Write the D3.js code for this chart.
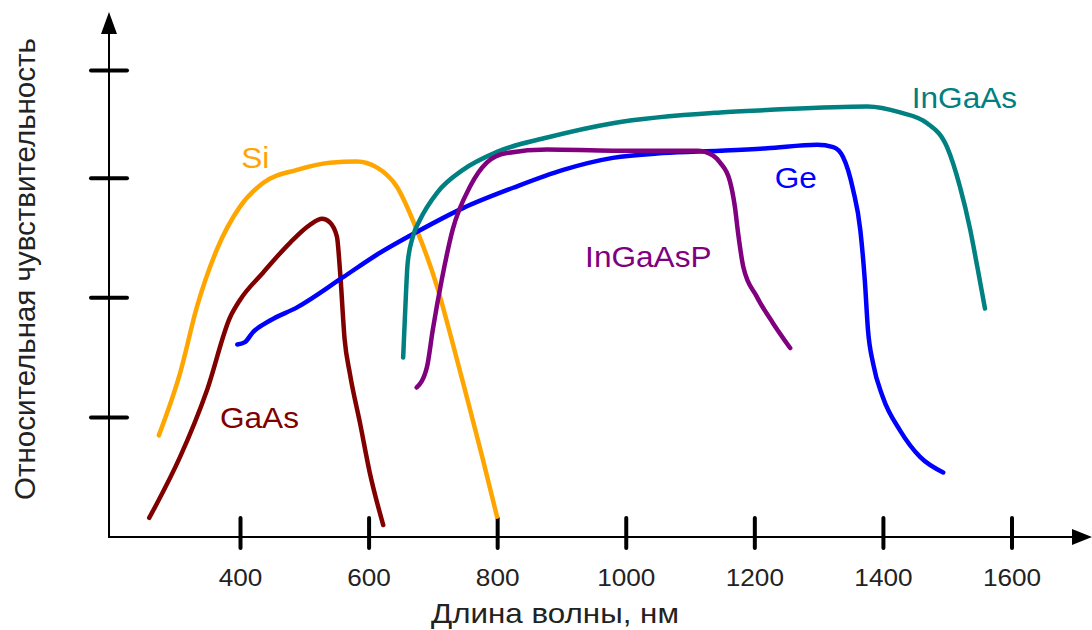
<!DOCTYPE html>
<html>
<head>
<meta charset="utf-8">
<script src="https://cdn.jsdelivr.net/npm/d3@7"></script>
<style>
  body { margin: 0; background: #fff; }
  text { font-family: "Liberation Sans", Arial, sans-serif; }
</style>
</head>
<body>
<div id="chart"></div>
<script>
// wavelength (nm), relative sensitivity (arbitrary units, 1 per y tick)
var siData = [[273,0.85],[306,1.37],[332,1.92],[363,2.40],[399,2.76],[435,2.96],[488,3.07],[539,3.13],[581,3.14],[612,3.09],[643,2.93],[674,2.57],[706,2.09],[730,1.62],[752,1.17],[776,0.67],[799,0.17]];
var gaasData = [[258,0.16],[270,0.28],[306,0.67],[348,1.23],[384,1.84],[399,1.98],[435,2.21],[477,2.46],[508,2.61],[527,2.66],[539,2.63],[550,2.51],[555,2.21],[562,1.65],[570,1.37],[586,0.95],[601,0.54],[622,0.10]];
var geData = [[395,1.61],[407,1.63],[419,1.71],[446,1.81],[488,1.92],[559,2.17],[612,2.36],[674,2.55],[746,2.75],[824,2.92],[902,3.07],[979,3.17],[1057,3.21],[1146,3.23],[1219,3.25],[1297,3.28],[1322,3.26],[1337,3.18],[1353,2.90],[1364,2.57],[1371,2.15],[1376,1.73],[1384,1.45],[1399,1.17],[1426,0.89],[1457,0.67],[1493,0.54]];
var ingaasData = [[653,1.50],[656,1.87],[660,2.29],[668,2.51],[679,2.65],[706,2.88],[746,3.07],[799,3.22],[877,3.34],[979,3.46],[1146,3.55],[1219,3.57],[1375,3.60],[1426,3.55],[1468,3.46],[1499,3.26],[1519,2.93],[1535,2.57],[1546,2.26],[1558,1.91]];
var ingaaspData = [[674,1.25],[690,1.42],[699,1.73],[713,2.15],[730,2.57],[757,2.93],[783,3.13],[814,3.21],[877,3.24],[979,3.23],[1110,3.23],[1135,3.19],[1146,3.13],[1161,2.98],[1169,2.76],[1174,2.54],[1182,2.26],[1203,2.01],[1228,1.79],[1255,1.58]];

var seriesNames = ["Si", "GaAs", "Ge", "InGaAs", "InGaAsP"];
var seriesColors = ["#FFA500", "#800000", "#0000FF", "#008080", "#800080"];
var seriesData = [siData, gaasData, geData, ingaasData, ingaaspData];
// label start point (nm, value) for each series name
var labelPos = [[401,3.085], [368,0.91], [1231,2.92], [1444,3.59], [936,2.26]];

var xTicks = [400, 600, 800, 1000, 1200, 1400, 1600];
var yTicks = [1, 2, 3, 3.9];
var xTitle = "Длина волны, нм";
var yTitle = "Относительная чувствительность";

var width = 1092, height = 630;
var svg = d3.select("#chart").append("svg")
    .attr("width", width)
    .attr("height", height);

var x = d3.scaleLinear().domain([400, 1600]).range([240.5, 1012]);
var y = d3.scaleLinear().domain([0, 1]).range([537, 417.4]);

// axes lines
svg.append("line")
    .attr("x1", 109).attr("x2", 1076)
    .attr("y1", y(0)).attr("y2", y(0))
    .attr("stroke", "#000").attr("stroke-width", 2);
svg.append("line")
    .attr("x1", 109).attr("x2", 109)
    .attr("y1", y(0) + 1).attr("y2", 30)
    .attr("stroke", "#000").attr("stroke-width", 2);
// arrow heads
svg.append("path")
    .attr("d", "M1092," + y(0) + " L1072," + (y(0) - 8) + " L1072," + (y(0) + 8) + " Z")
    .attr("fill", "#000");
svg.append("path")
    .attr("d", "M109,12 L101,34 L117,34 Z")
    .attr("fill", "#000");

// x ticks
svg.append("g").selectAll("line").data(xTicks).join("line")
    .attr("x1", d => x(d)).attr("x2", d => x(d))
    .attr("y1", y(0) - 19).attr("y2", y(0) + 11)
    .attr("stroke", "#000").attr("stroke-width", 4).attr("stroke-linecap", "round");
svg.append("g").selectAll("text").data(xTicks).join("text")
    .attr("transform", d => "translate(" + x(d) + ",586) scale(1.09,1)")
    .attr("text-anchor", "middle")
    .attr("font-size", 24)
    .attr("fill", "#222")
    .text(d => d);

// y ticks
svg.append("g").selectAll("line").data(yTicks).join("line")
    .attr("x1", 91).attr("x2", 127)
    .attr("y1", d => y(d)).attr("y2", d => y(d))
    .attr("stroke", "#000").attr("stroke-width", 4).attr("stroke-linecap", "round");

// axis titles
svg.append("text")
    .attr("transform", "translate(555,623) scale(1.12,1)")
    .attr("text-anchor", "middle")
    .attr("font-size", 28)
    .attr("fill", "#222")
    .text(xTitle);
svg.append("text")
    .attr("transform", "translate(35,269) rotate(-90)")
    .attr("text-anchor", "middle")
    .attr("font-size", 29.5)
    .attr("fill", "#222")
    .text(yTitle);

// curves
var line = d3.line()
    .curve(d3.curveMonotoneX)
    .x(d => x(d[0]))
    .y(d => y(d[1]));

svg.append("g").selectAll("path").data(seriesData).join("path")
    .attr("d", d => line(d))
    .attr("fill", "none")
    .attr("stroke", (d, i) => seriesColors[i])
    .attr("stroke-width", 4.5)
    .attr("stroke-linecap", "round")
    .attr("stroke-linejoin", "round");

// series labels
svg.append("g").selectAll("text").data(seriesNames).join("text")
    .attr("transform", (d, i) => "translate(" + x(labelPos[i][0]) + "," + y(labelPos[i][1]) + ") scale(1.09,1)")
    .attr("text-anchor", "start")
    .attr("font-size", 29)
    .attr("fill", (d, i) => seriesColors[i])
    .text(d => d);
</script>
</body>
</html>
